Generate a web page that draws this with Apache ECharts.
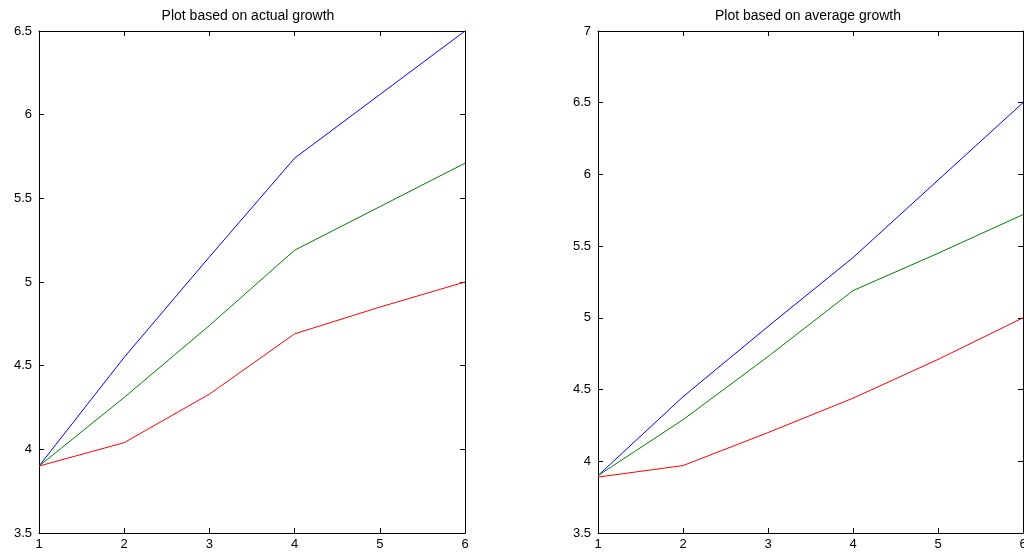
<!DOCTYPE html>
<html>
<head>
<meta charset="utf-8">
<script src="https://cdn.jsdelivr.net/npm/echarts@6/dist/echarts.min.js"></script>
<style>html,body{margin:0;padding:0;background:#fff}#c{width:1024px;height:552px}</style>
</head>
<body>
<div id="c"></div>
<script>
const xValues = [1, 2, 3, 4, 5, 6];
const titles = ['Plot based on actual growth', 'Plot based on average growth'];
// Left: actual growth
const actualBlue  = [3.90, 4.55, 5.15, 5.74, 6.12, 6.50];
const actualGreen = [3.90, 4.31, 4.74, 5.19, 5.45, 5.71];
const actualRed   = [3.90, 4.04, 4.33, 4.69, 4.85, 5.00];
// Right: average growth
const avgBlue  = [3.90, 4.45, 4.94, 5.42, 5.96, 6.50];
const avgGreen = [3.90, 4.29, 4.73, 5.19, 5.45, 5.72];
const avgRed   = [3.89, 3.97, 4.20, 4.44, 4.71, 5.00];
const yRanges = [[3.5, 6.5], [3.5, 7]];

const pairs = arr => arr.map((v, i) => [xValues[i], v]);
const font = 'Liberation Sans, Arial, Helvetica, sans-serif';
const grids = [
  {left: 39, top: 31, width: 426, height: 502, outerBoundsMode: 'none', containLabel: false},
  {left: 598, top: 31, width: 425, height: 502, outerBoundsMode: 'none', containLabel: false}
];
const lineStyleAxis = {color: '#000', width: 1};
const xAxes = [], yAxes = [];
grids.forEach((g, i) => {
  xAxes.push({type: 'value', gridIndex: i, min: 1, max: 6, interval: 1, position: 'bottom',
    axisLine: {show: true, lineStyle: lineStyleAxis}, axisTick: {show: true, inside: true, length: 5, lineStyle: lineStyleAxis},
    axisLabel: {show: true, color: '#000', fontSize: 13, fontFamily: font, margin: 5, showMinLabel: true, showMaxLabel: true},
    splitLine: {show: false}});
  xAxes.push({type: 'value', gridIndex: i, min: 1, max: 6, interval: 1, position: 'top',
    axisLine: {show: true, lineStyle: lineStyleAxis}, axisTick: {show: true, inside: true, length: 5, lineStyle: lineStyleAxis},
    axisLabel: {show: false}, splitLine: {show: false}});
  yAxes.push({type: 'value', gridIndex: i, min: yRanges[i][0], max: yRanges[i][1], interval: 0.5, position: 'left',
    axisLine: {show: true, lineStyle: lineStyleAxis}, axisTick: {show: true, inside: true, length: 5, lineStyle: lineStyleAxis},
    axisLabel: {show: true, color: '#000', fontSize: 13, fontFamily: font, margin: 7, showMinLabel: true, showMaxLabel: true},
    splitLine: {show: false}});
  yAxes.push({type: 'value', gridIndex: i, min: yRanges[i][0], max: yRanges[i][1], interval: 0.5, position: 'right',
    axisLine: {show: true, lineStyle: lineStyleAxis}, axisTick: {show: true, inside: true, length: 5, lineStyle: lineStyleAxis},
    axisLabel: {show: false}, splitLine: {show: false}});
});
const mk = (data, color, gi) => ({type: 'line', xAxisIndex: gi * 2, yAxisIndex: gi * 2, data: pairs(data),
  showSymbol: false, symbol: 'none', lineStyle: {color: color, width: 1}, itemStyle: {color: color}, animation: false});
const chart = echarts.init(document.getElementById('c'), null, {renderer: 'canvas'});
chart.setOption({
  animation: false,
  backgroundColor: '#fff',
  title: [
    {text: titles[0], left: 243, top: 4, textAlign: 'center', textStyle: {fontSize: 14, fontWeight: 'normal', color: '#000', fontFamily: font}},
    {text: titles[1], left: 803, top: 4, textAlign: 'center', textStyle: {fontSize: 14, fontWeight: 'normal', color: '#000', fontFamily: font}}
  ],
  grid: grids,
  xAxis: xAxes,
  yAxis: yAxes,
  series: [
    mk(actualBlue, '#0000ff', 0), mk(actualGreen, '#008000', 0), mk(actualRed, '#ff0000', 0),
    mk(avgBlue, '#0000ff', 1), mk(avgGreen, '#008000', 1), mk(avgRed, '#ff0000', 1)
  ]
});
</script>
</body>
</html>
